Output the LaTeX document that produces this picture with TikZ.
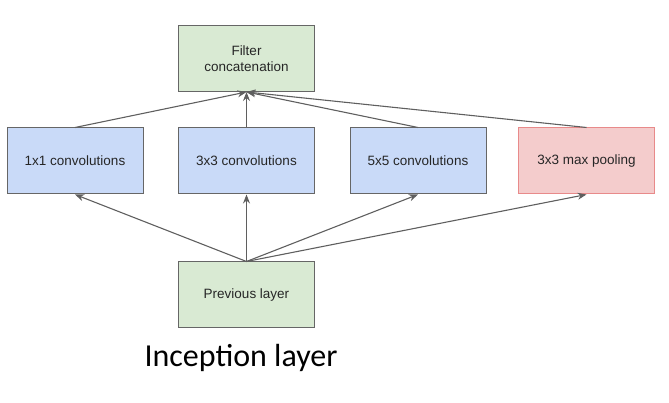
\documentclass[tikz,border=0pt]{standalone}
\usepackage{fontspec}
\setmainfont{Liberation Sans}
\newfontfamily\captionfont{Carlito}
\usetikzlibrary{arrows.meta}
\definecolor{boxgreen}{HTML}{D9EAD3}
\definecolor{boxblue}{HTML}{C9DAF8}
\definecolor{boxred}{HTML}{F4CCCC}
\definecolor{edgered}{HTML}{E88A8A}
\definecolor{edgegray}{HTML}{666666}
\definecolor{arrowgray}{HTML}{5F5F5F}
\tikzset{
  layerbox/.style={draw=edgegray, line width=1pt, minimum width=136pt, minimum height=66pt,
    align=center, font=\fontsize{13.5}{16.5}\selectfont, text=black!85},
  flow/.style={->, >={Stealth[length=9pt,width=7pt]}, draw=arrowgray, line width=1.1pt}
}
\begin{document}
\begin{tikzpicture}[x=1pt,y=1pt]
        \useasboundingbox (0,0) rectangle (669,403);
        \node [layerbox, fill=boxgreen] (concat) at (246.5,344.5) {Filter\\concatenation};
        \node [layerbox, fill=boxblue] (convA) at (75,242) {1x1 convolutions};
        \node [layerbox, fill=boxblue] (convB) at (246.5,242) {3x3 convolutions};
        \node [layerbox, fill=boxblue] (convC) at (418,242) {5x5 convolutions};
        \node [layerbox, fill=boxred, draw=edgered] (pool) at (586.5,242) {3x3 max pooling};
        \node [layerbox, fill=boxgreen] (prev) at (246.5,108) {Previous layer};
        \node [font=\captionfont\fontsize{32}{36}\selectfont] (title) at (241,45) {Inception layer};
        \draw [flow] (prev.north) -- (convA.south);
        \draw [flow] (prev.north) -- (convB.south);
        \draw [flow] (prev.north) -- (convC.south);
        \draw [flow] (prev.north) -- (pool.south);
        \draw [flow] (convA.north) -- (concat.south);
        \draw [flow] (convB.north) -- (concat.south);
        \draw [flow] (convC.north) -- (concat.south);
        \draw [flow] (pool.north) -- (concat.south);
\end{tikzpicture}
\end{document}
